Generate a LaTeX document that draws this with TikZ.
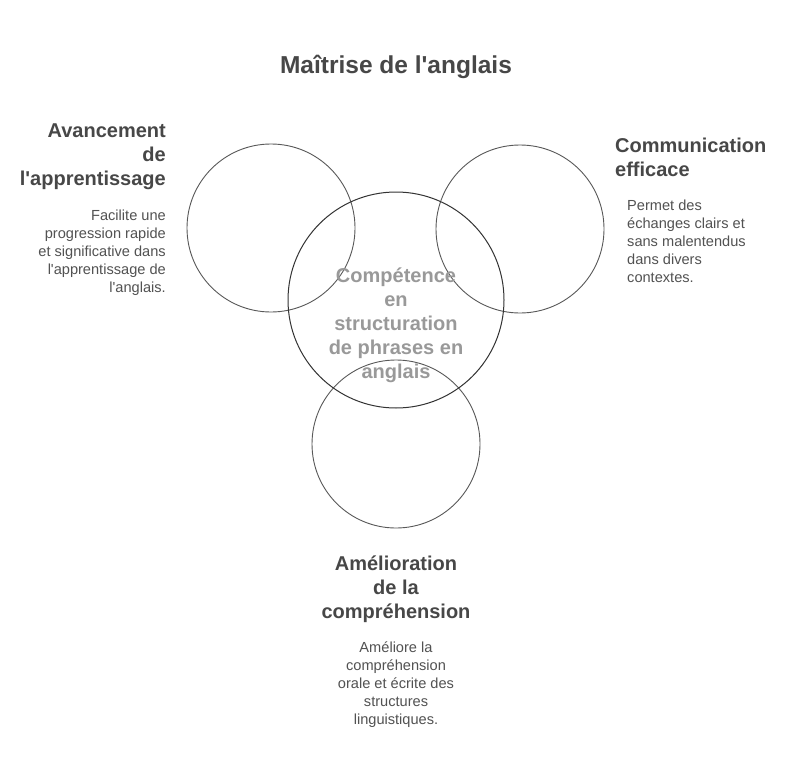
\documentclass[tikz,border=0pt]{standalone}
\usepackage{fontspec}
\setmainfont{Liberation Sans}
\newcommand{\aq}{\textquotesingle}
\begin{document}
\begin{tikzpicture}[x=1pt,y=-1pt,
  ring/.style={draw=black!65,line width=0.9pt},
  ringc/.style={draw=black!80,line width=1pt},
  head/.style={inner sep=0pt,text=black!72,font=\fontsize{20}{24}\selectfont\bfseries},
  desc/.style={inner sep=0pt,text=black!68,font=\fontsize{14.6}{18}\selectfont},
  ctext/.style={inner sep=0pt,text=black!40,font=\fontsize{20}{24}\selectfont\bfseries,align=center}]
\useasboundingbox (0,0) rectangle (799,757);
\fill[white] (0,0) rectangle (799,757);
\node[ring,circle,minimum size=168pt,inner sep=0pt] (cl) at (271,228) {};
\node[ring,circle,minimum size=168pt,inner sep=0pt] (cr) at (520,229) {};
\node[ring,circle,minimum size=168pt,inner sep=0pt] (cb) at (396,444) {};
\node[ringc,circle,minimum size=216pt,inner sep=0pt] (cc) at (396,300) {};
\node[ctext] (ct) at (396,325) {Compétence\\en\\structuration\\de phrases en\\anglais};
\node[head,font=\fontsize{24.5}{28}\selectfont\bfseries] (title) at (396,67) {Maîtrise de l\aq anglais};
\node[head,align=right,anchor=east] (hl) at (166,157) {Avancement\\de\\l\aq apprentissage};
\node[desc,align=right,anchor=east] (dl) at (166,253) {Facilite une\\progression rapide\\et significative dans\\l\aq apprentissage de\\l\aq anglais.};
\node[head,align=left,anchor=west] (hr) at (615,157) {Communication\\efficace};
\node[desc,align=left,anchor=west] (dr) at (627,241) {Permet des\\échanges clairs et\\sans malentendus\\dans divers\\contextes.};
\node[head,align=center] (hb) at (396,589) {Amélioration\\de la\\compréhension};
\node[desc,align=center] (db) at (396,685) {Améliore la\\compréhension\\orale et écrite des\\structures\\linguistiques.};
\end{tikzpicture}
\end{document}
